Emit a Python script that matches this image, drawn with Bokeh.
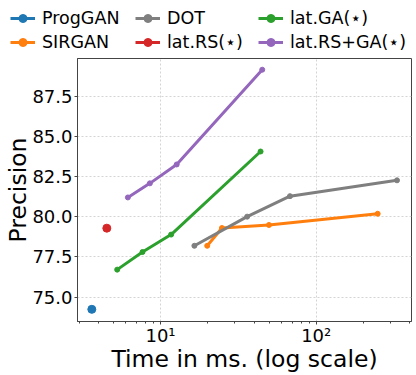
from bokeh.plotting import figure
from bokeh.layouts import column
from bokeh.models import (Legend, LegendItem, FixedTicker, Range1d,
                          NumeralTickFormatter)
from bokeh.embed import file_html
from bokeh.resources import INLINE

# ---- data ----
prog_x = [3.62]
prog_y = [74.23]
sir_x = [19.95, 24.8, 49.7, 248]
sir_y = [78.2, 79.31, 79.5, 80.2]
dot_x = [16.5, 36.0, 67.8, 330]
dot_y = [78.2, 80.02, 81.3, 82.29]
rs_x = [4.52]
rs_y = [79.3]
ga_x = [5.27, 7.66, 11.7, 43.9]
ga_y = [76.71, 77.81, 78.9, 84.09]
rsga_x = [6.17, 8.54, 12.7, 45.0]
rsga_y = [81.22, 82.1, 83.28, 89.2]

names = ["ProgGAN", "SIRGAN", "DOT", "lat.RS(⋆)", "lat.GA(⋆)", "lat.RS+GA(⋆)"]
xs = [prog_x, sir_x, dot_x, rs_x, ga_x, rsga_x]
ys = [prog_y, sir_y, dot_y, rs_y, ga_y, rsga_y]
colors = ["#1f77b4", "#ff7f0e", "#7f7f7f", "#d62728", "#2ca02c", "#9467bd"]

y_ticks = [75, 77.5, 80, 82.5, 85, 87.5]
x_major = [10, 100]
x_minor = [3, 4, 5, 6, 7, 8, 9, 20, 30, 40, 50, 60, 70, 80, 90, 200, 300, 400]
x_labels = {10: "10¹", 100: "10²"}
x_title = "Time in ms. (log scale)"
y_title = "Precision"

FONT = "DejaVu Sans"
LW = 3

# ---------------- main plot ----------------
p = figure(width=416, height=318, x_axis_type="log", output_backend="svg",
           toolbar_location=None,
           x_range=Range1d(2.93, 409), y_range=Range1d(73.47, 89.9),
           min_border_left=77, min_border_right=5, min_border_top=1,
           min_border_bottom=52)

for n, x, y, c in zip(names, xs, ys, colors):
    p.line(x, y, line_color=c, line_width=LW)
    sz = 8 if len(x) == 1 else 5
    p.scatter(x, y, size=sz, fill_color=c, line_color=c)

p.xaxis.ticker = FixedTicker(ticks=x_major, minor_ticks=x_minor)
p.xaxis.major_label_overrides = x_labels
p.yaxis.ticker = FixedTicker(ticks=y_ticks)
p.yaxis.formatter = NumeralTickFormatter(format="0.0")
p.xaxis.axis_label = x_title
p.yaxis.axis_label = y_title

for ax in (p.xaxis, p.yaxis):
    ax.major_label_text_font = FONT
    ax.major_label_text_font_size = "18px"
    ax.major_label_text_color = "black"
    ax.axis_label_text_font = FONT
    ax.axis_label_text_font_size = "23.5px"
    ax.axis_label_text_font_style = "normal"
    ax.axis_label_text_color = "black"
    ax.axis_line_color = "#444444"
    ax.major_tick_line_color = "#444444"
    ax.minor_tick_line_color = "#444444"
    ax.major_tick_out = 3
    ax.major_tick_in = 0
    ax.minor_tick_out = 2
    ax.minor_tick_in = 0
p.xaxis.major_label_standoff = 0
p.xaxis.axis_label_standoff = -4
p.yaxis.major_label_standoff = 2
p.yaxis.axis_label_standoff = -3

p.outline_line_color = "#444444"
p.outline_line_width = 1
p.grid.grid_line_color = "#d4d4d4"
p.grid.grid_line_dash = "2 2"
p.grid.grid_line_width = 1
p.background_fill_color = "white"
p.border_fill_color = "white"

# ---------------- legend strip (matplotlib-style legend above the axes) ----------------
lf = figure(width=416, height=57, output_backend="svg", toolbar_location=None,
            x_axis_type=None, y_axis_type=None,
            x_range=Range1d(0, 1), y_range=Range1d(0, 1),
            min_border_left=0, min_border_right=0, min_border_top=0,
            min_border_bottom=0)
lf.outline_line_color = None
lf.grid.visible = False
for fig in (lf, p):
    if "frame_align" in fig.properties():
        fig.frame_align = False

nan = float("nan")
items = []
for n, x, c in zip(names, xs, colors):
    ln = lf.line(x=[nan], y=[nan], line_color=c, line_width=LW)
    sz = 8 if len(x) == 1 else 5
    sc = lf.scatter(x=[nan], y=[nan], size=sz, fill_color=c, line_color=c)
    items.append(LegendItem(label=n, renderers=[ln, sc]))

col_x = [10, 135, 258]
for i, cx in enumerate(col_x):
    lg = Legend(items=items[2 * i:2 * i + 2], location=(cx, 5),
                orientation="vertical", padding=0, margin=0, spacing=4,
                glyph_width=25, glyph_height=20, label_height=20,
                label_standoff=7, label_text_font=FONT,
                label_text_font_size="17.5px", label_text_color="black",
                border_line_color=None, background_fill_alpha=0)
    lf.add_layout(lg)

layout = column(lf, p, spacing=0)
open("out.html", "w").write(file_html(layout, INLINE))
